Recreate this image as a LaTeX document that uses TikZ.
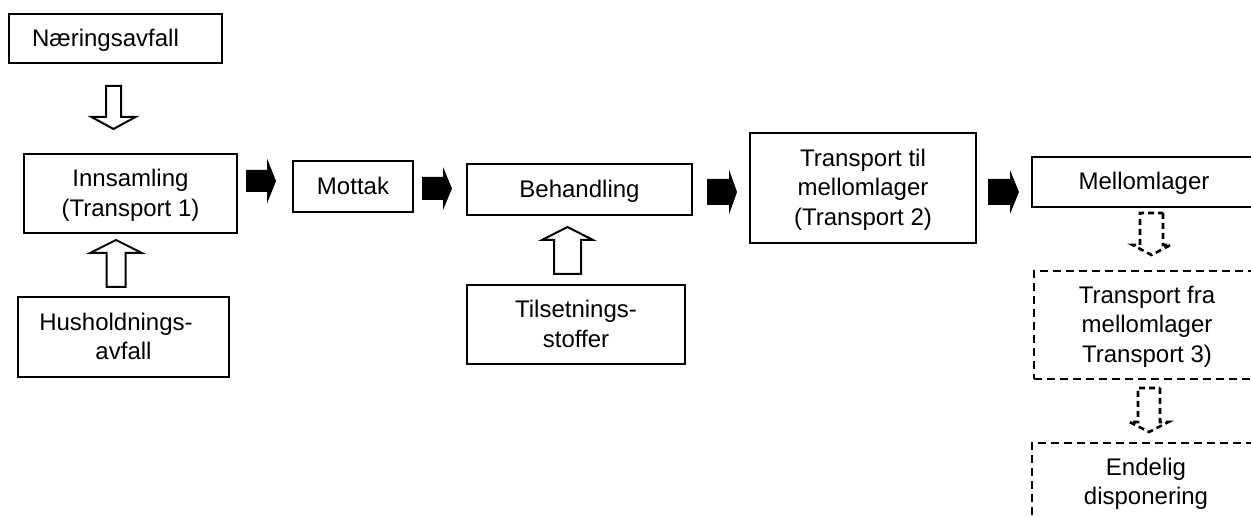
\documentclass[tikz,border=0pt]{standalone}
\usepackage{fontspec}
\setmainfont{Liberation Sans}
\usetikzlibrary{calc}

% fixed line box for every text line, so text sits the same way in each box
\newcommand\ts{\rule[-3pt]{0pt}{13.9pt}}

\tikzset{
  box/.style={draw, line width=1pt, inner sep=0pt, outer sep=0pt, align=center,
    font=\fontsize{12}{14.75}\selectfont},
  dbox/.style={box, line width=1.3pt, dash pattern=on 4pt off 2.5pt},
  hollowarrow/.style={draw, fill=white, line width=1pt, line join=miter},
  solidarrow/.style={fill=black},
  dasharrow/.style={draw, line width=1.3pt, dash pattern=on 3pt off 2pt, line join=miter},
}

% Block arrow from coordinate #2 to coordinate #3:
% #4 = half shaft width, #5 = half head width, #6 = head length
\newcommand\blockarrow[6][]{%
  \path ($(#3)!#6!(#2)$) coordinate (ba-hb);
  \path[#1] ($(#2)!#4!90:(#3)$) -- ($(ba-hb)!#4!90:(#3)$) -- ($(ba-hb)!#5!90:(#3)$)
    -- (#3) -- ($(ba-hb)!#5!-90:(#3)$) -- ($(ba-hb)!#4!-90:(#3)$)
    -- ($(#2)!#4!-90:(#3)$) -- cycle;}

\begin{document}
\begin{tikzpicture}[x=0.5pt, y=-0.5pt]
\path[use as bounding box] (0,0) rectangle (1251,517);
\clip (0,0) rectangle (1251,517);

% process boxes
\node[box, minimum width=106.5pt, minimum height=24.5pt] (naer) at (115.5,38.5) {\ts Næringsavfall\hspace*{10pt}};
\node[box, minimum width=106.5pt, minimum height=39.5pt] (inns) at (130.5,193.5) {\ts Innsamling\\\ts(Transport 1)};
\node[box, minimum width=105.5pt, minimum height=40pt] (hush) at (123.5,337) {\ts Husholdnings-\hspace*{7.5pt}\\\ts avfall};
\node[box, minimum width=60pt, minimum height=25.5pt] (mott) at (353,186.5) {\ts Mottak};
\node[box, minimum width=112.5pt, minimum height=25.5pt] (beh) at (579.5,189.5) {\ts Behandling};
\node[box, minimum width=109pt, minimum height=39.5pt] (tils) at (576,324.5) {\ts Tilsetnings-\\\ts stoffer};
\node[box, minimum width=113pt, minimum height=55pt] (tran2) at (863,188) {\ts Transport til\\\ts mellomlager\\\ts(Transport 2)};
\node[box, minimum width=112pt, minimum height=25pt] (mell) at (1144,182) {\ts Mellomlager};
\node[dbox, minimum width=113pt, minimum height=54pt] (tran3) at (1147,325) {\ts Transport fra\\\ts mellomlager\\\ts Transport 3)};
\node[dbox, minimum width=114pt, minimum height=39pt] (endel) at (1146,482) {\ts Endelig\\\ts disponering};

% arrow end points
\coordinate (a1s) at (113.5,86);   \coordinate (a1e) at (113.5,129);
\coordinate (a2s) at (116,287);    \coordinate (a2e) at (116,240);
\coordinate (a3s) at (567.5,274);  \coordinate (a3e) at (567.5,227);
\coordinate (b1s) at (246,181);    \coordinate (b1e) at (276,181);
\coordinate (b2s) at (422,188.5);  \coordinate (b2e) at (452,188.5);
\coordinate (b3s) at (707,192);    \coordinate (b3e) at (737,192);
\coordinate (b4s) at (988,192);    \coordinate (b4e) at (1019,192);
\coordinate (d1s) at (1151.5,213); \coordinate (d1e) at (1151.5,255);
\coordinate (d2s) at (1149,388);   \coordinate (d2e) at (1149,432);

% inputs (hollow arrows)
\blockarrow[hollowarrow]{a1s}{a1e}{3.75pt}{11pt}{6pt}
\blockarrow[hollowarrow]{a2s}{a2e}{4.75pt}{13pt}{6.5pt}
\blockarrow[hollowarrow]{a3s}{a3e}{6.75pt}{12.75pt}{6.5pt}

% main chain (solid arrows)
\blockarrow[solidarrow]{b1s}{b1e}{5.5pt}{11.25pt}{4.5pt}
\blockarrow[solidarrow]{b2s}{b2e}{5.75pt}{10.75pt}{4.5pt}
\blockarrow[solidarrow]{b3s}{b3e}{6.5pt}{11.25pt}{4pt}
\blockarrow[solidarrow]{b4s}{b4e}{6.5pt}{11pt}{4.5pt}

% optional steps (dashed arrows)
\blockarrow[dasharrow]{d1s}{d1e}{5.75pt}{9.5pt}{5pt}
\blockarrow[dasharrow]{d2s}{d2e}{5.5pt}{9.75pt}{5pt}
\end{tikzpicture}
\end{document}
